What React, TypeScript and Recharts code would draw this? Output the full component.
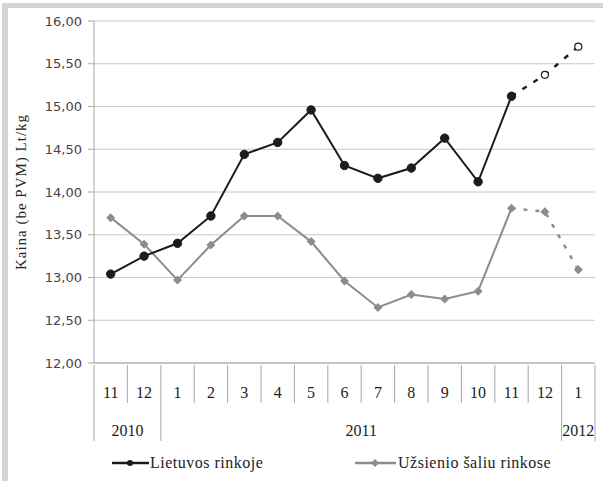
import { LineChart, Line, XAxis, YAxis, CartesianGrid } from 'recharts'

const months = ['11', '12', '1', '2', '3', '4', '5', '6', '7', '8', '9', '10', '11', '12', '1']
const years = ['2010', '2010', '2011', '2011', '2011', '2011', '2011', '2011', '2011', '2011', '2011', '2011', '2011', '2011', '2012']
const lietuvos = [13.04, 13.25, 13.4, 13.72, 14.44, 14.58, 14.96, 14.31, 14.16, 14.28, 14.63, 14.12, 15.12, null, null]
const lietuvosForecast = [null, null, null, null, null, null, null, null, null, null, null, null, 15.12, 15.37, 15.7]
const uzsienio = [13.7, 13.39, 12.97, 13.38, 13.72, 13.72, 13.42, 12.96, 12.65, 12.8, 12.75, 12.84, 13.81, null, null]
const uzsienioForecast = [null, null, null, null, null, null, null, null, null, null, null, null, 13.81, 13.77, 13.09]
const yTicks = [12, 12.5, 13, 13.5, 14, 14.5, 15, 15.5, 16]

const W = 603
const H = 481
const M = { top: 21, right: 8, bottom: 28, left: 0 }
const Y_AXIS_W = 94
const PLOT_W = W - M.left - M.right - Y_AXIS_W
const BAND = PLOT_W / months.length

const SERIF = '"Liberation Serif", "Times New Roman", serif'
const BLACK = '#1c1c1c'
const GRAY = '#8c8c8c'
const AXIS = '#a8a8a8'

const data = months.map((m, i) => ({
  idx: i,
  month: m,
  year: years[i],
  lt: lietuvos[i],
  ltF: lietuvosForecast[i],
  uz: uzsienio[i],
  uzF: uzsienioForecast[i],
}))

const fmt = (v: number) => v.toFixed(2).replace('.', ',')

function Diamond({ cx, cy, fill }: { cx?: number; cy?: number | null; fill: string }) {
  if (cx == null || cy == null) return <g />
  const s = 4.5
  return <polygon points={`${cx},${cy - s} ${cx + s},${cy} ${cx},${cy + s} ${cx - s},${cy}`} fill={fill} />
}

function MonthTick(props: any) {
  const { x, y, payload } = props
  const i = payload.index as number
  const left = x - BAND / 2
  const right = x + BAND / 2
  const newYear = i === 0 || years[i] !== years[i - 1]
  let yearLabel = null
  if (newYear) {
    let n = 1
    while (i + n < years.length && years[i + n] === years[i]) n++
    yearLabel = (
      <text x={left + (n * BAND) / 2} y={y + 71} textAnchor="middle" fontFamily={SERIF} fontSize={16} fill="#222">
        {years[i]}
      </text>
    )
  }
  return (
    <g>
      <line x1={left} y1={y} x2={left} y2={newYear ? y + 76 : y + 38} stroke={AXIS} strokeWidth={1} />
      {i === months.length - 1 && <line x1={right} y1={y} x2={right} y2={y + 76} stroke={AXIS} strokeWidth={1} />}
      <text x={x} y={y + 33} textAnchor="middle" fontFamily={SERIF} fontSize={16} fill="#222">
        {months[i]}
      </text>
      {yearLabel}
    </g>
  )
}

export default function App() {
  return (
    <div style={{ position: 'absolute', left: 0, top: 0, width: W, height: H, background: '#fff' }}>
      <div style={{ position: 'absolute', left: 0, top: 0 }}>
        <LineChart width={W} height={H} data={data} margin={M}>
          <CartesianGrid vertical={false} stroke="#c8c8c8" strokeWidth={1} />
          <XAxis
            dataKey="idx"
            type="category"
            scale="band"
            interval={0}
            height={90}
            tickLine={false}
            tickSize={0}
            axisLine={{ stroke: AXIS }}
            tick={<MonthTick />}
          />
          <YAxis
            domain={[12, 16]}
            ticks={yTicks}
            width={Y_AXIS_W}
            tickFormatter={fmt}
            tickSize={6}
            tickMargin={6}
            axisLine={{ stroke: AXIS }}
            tickLine={{ stroke: AXIS }}
            tick={{ fontFamily: '"DejaVu Sans", sans-serif', fontSize: 13, fill: '#444' }}
            label={{
              value: 'Kaina (be PVM) Lt/kg',
              angle: -90,
              position: 'insideLeft',
              offset: 21,
              style: { textAnchor: 'middle', fontFamily: SERIF, fontSize: 15, letterSpacing: 1, fill: '#222' },
            }}
          />
          <Line
            dataKey="uz"
            stroke={GRAY}
            strokeWidth={2}
            isAnimationActive={false}
            dot={(p: any) => <Diamond key={`u${p.index}`} cx={p.cx} cy={p.cy} fill={GRAY} />}
            activeDot={false}
          />
          <Line
            dataKey="uzF"
            stroke={GRAY}
            strokeWidth={2.5}
            strokeDasharray="4 8"
            isAnimationActive={false}
            dot={(p: any) =>
              p.index === 12 || p.value == null ? (
                <g key={`uf${p.index}`} />
              ) : (
                <Diamond key={`uf${p.index}`} cx={p.cx} cy={p.cy} fill={GRAY} />
              )
            }
            activeDot={false}
          />
          <Line
            dataKey="lt"
            stroke={BLACK}
            strokeWidth={2}
            isAnimationActive={false}
            dot={{ r: 4.2, fill: BLACK, stroke: BLACK, strokeWidth: 1 }}
            activeDot={false}
          />
          <Line
            dataKey="ltF"
            stroke={BLACK}
            strokeWidth={2.5}
            strokeDasharray="5 8"
            isAnimationActive={false}
            dot={(p: any) =>
              p.index === 12 || p.value == null || p.cy == null ? (
                <g key={`lf${p.index}`} />
              ) : (
                <circle key={`lf${p.index}`} cx={p.cx} cy={p.cy} r={3.5} fill="#fff" stroke={BLACK} strokeWidth={1.2} />
              )
            }
            activeDot={false}
          />
        </LineChart>
      </div>
      <svg style={{ position: 'absolute', left: 0, top: 449 }} width={W} height={30}>
        <line x1={112} y1={14} x2={149} y2={14} stroke={BLACK} strokeWidth={2.5} />
        <circle cx={130} cy={14} r={3} fill={BLACK} />
        <text x={150} y={19} fontFamily={SERIF} fontSize={16} letterSpacing={0.5} fill="#222">
          Lietuvos rinkoje
        </text>
        <line x1={355} y1={14} x2={396} y2={14} stroke={GRAY} strokeWidth={2.5} />
        <polygon points="375,10 379,14 375,18 371,14" fill={GRAY} />
        <text x={398} y={19} fontFamily={SERIF} fontSize={16} letterSpacing={0.5} fill="#222">
          Užsienio šaliu rinkose
        </text>
      </svg>
      <div style={{ position: 'absolute', left: 2, top: 3, width: 6, height: H - 3, background: '#d4d4d4' }} />
      <div style={{ position: 'absolute', left: 2, top: 3, width: W - 2, height: 5, background: '#d4d4d4' }} />
    </div>
  )
}
